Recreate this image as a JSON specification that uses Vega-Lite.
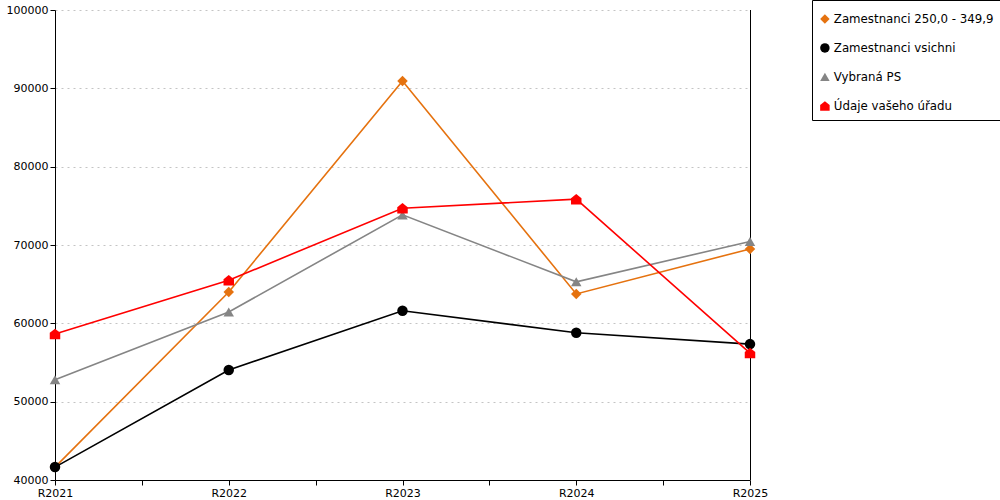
{
  "$schema": "https://vega.github.io/schema/vega-lite/v6.json",
  "width": 695,
  "height": 470,
  "autosize": "none",
  "padding": {"left": 55, "top": 10, "right": 250, "bottom": 20},
  "background": "white",
  "config": {
    "font": "DejaVu Sans",
    "view": {"stroke": null},
    "axis": {
      "labelFont": "DejaVu Sans",
      "labelFontSize": 11,
      "labelColor": "black",
      "domainColor": "black",
      "tickColor": "black",
      "tickSize": 5
    }
  },
  "data": {
    "values": [
      {"rok": 2021, "rada": "Zamestnanci 250,0 - 349,9", "hodnota": 41650},
      {"rok": 2022, "rada": "Zamestnanci 250,0 - 349,9", "hodnota": 64000},
      {"rok": 2023, "rada": "Zamestnanci 250,0 - 349,9", "hodnota": 90950},
      {"rok": 2024, "rada": "Zamestnanci 250,0 - 349,9", "hodnota": 63750},
      {"rok": 2025, "rada": "Zamestnanci 250,0 - 349,9", "hodnota": 69500},
      {"rok": 2021, "rada": "Zamestnanci vsichni", "hodnota": 41650},
      {"rok": 2022, "rada": "Zamestnanci vsichni", "hodnota": 54050},
      {"rok": 2023, "rada": "Zamestnanci vsichni", "hodnota": 61600},
      {"rok": 2024, "rada": "Zamestnanci vsichni", "hodnota": 58800},
      {"rok": 2025, "rada": "Zamestnanci vsichni", "hodnota": 57350},
      {"rok": 2021, "rada": "Vybraná PS", "hodnota": 52800},
      {"rok": 2022, "rada": "Vybraná PS", "hodnota": 61450},
      {"rok": 2023, "rada": "Vybraná PS", "hodnota": 73850},
      {"rok": 2024, "rada": "Vybraná PS", "hodnota": 65300},
      {"rok": 2025, "rada": "Vybraná PS", "hodnota": 70450},
      {"rok": 2021, "rada": "Údaje vašeho úřadu", "hodnota": 58650},
      {"rok": 2022, "rada": "Údaje vašeho úřadu", "hodnota": 65500},
      {"rok": 2023, "rada": "Údaje vašeho úřadu", "hodnota": 74700},
      {"rok": 2024, "rada": "Údaje vašeho úřadu", "hodnota": 75850},
      {"rok": 2025, "rada": "Údaje vašeho úřadu", "hodnota": 56200}
    ]
  },
  "layer": [
    {
      "mark": {"type": "rule", "color": "black", "strokeWidth": 1, "xOffset": 0.5},
      "encoding": {
        "x": {
          "datum": 2025,
          "type": "quantitative",
          "scale": {"domain": [2021, 2025], "nice": false, "zero": false},
          "axis": {
            "title": null,
            "grid": false,
            "values": [2021, 2021.5, 2022, 2022.5, 2023, 2023.5, 2024, 2024.5, 2025],
            "labelExpr": "datum.value % 1 == 0 ? 'R' + datum.value : ''",
            "labelPadding": 2,
            "labelFlush": false
          }
        }
      }
    },
    {
      "encoding": {
        "x": {"field": "rok", "type": "quantitative"},
        "y": {
          "field": "hodnota",
          "type": "quantitative",
          "scale": {"domain": [40000, 100000], "nice": false, "zero": false},
          "axis": {
            "title": null,
            "format": "d",
            "values": [40000, 50000, 60000, 70000, 80000, 90000, 100000],
            "grid": true,
            "gridColor": "#c4c4c4",
            "gridDash": [2, 4],
            "labelPadding": 2
          }
        },
        "color": {
          "field": "rada",
          "type": "nominal",
          "scale": {
            "domain": ["Zamestnanci 250,0 - 349,9", "Zamestnanci vsichni", "Vybraná PS", "Údaje vašeho úřadu"],
            "range": ["#E5720F", "#000000", "#858585", "#FF0000"]
          },
          "legend": {
            "title": " ",
            "titleFontSize": 4,
            "titlePadding": 2,
            "orient": "none",
            "legendX": 757,
            "legendY": -10,
            "strokeColor": "black",
            "padding": 7,
            "labelFont": "DejaVu Sans",
            "labelFontSize": 11.8,
            "labelColor": "black",
            "labelLimit": 400,
            "symbolSize": 90,
            "rowPadding": 16,
            "labelOffset": 3,
            "symbolOpacity": 1,
            "symbolStrokeWidth": 0
          }
        }
      },
      "layer": [
        {
          "mark": {"type": "line", "strokeWidth": 1.6},
          "encoding": {"order": {"field": "rok"}}
        },
        {
          "mark": {"type": "point", "filled": true, "opacity": 1, "strokeWidth": 0, "size": 110},
          "encoding": {
            "shape": {
              "field": "rada",
              "type": "nominal",
              "scale": {
                "domain": ["Zamestnanci 250,0 - 349,9", "Zamestnanci vsichni", "Vybraná PS", "Údaje vašeho úřadu"],
                "range": ["diamond", "circle", "triangle-up", "M-1,1L1,1L1,-0.2L0,-1L-1,-0.2Z"]
              },
              "legend": {
                "title": " ",
                "orient": "none",
                "legendX": 757,
                "legendY": -10
              }
            }
          }
        }
      ]
    }
  ]
}
